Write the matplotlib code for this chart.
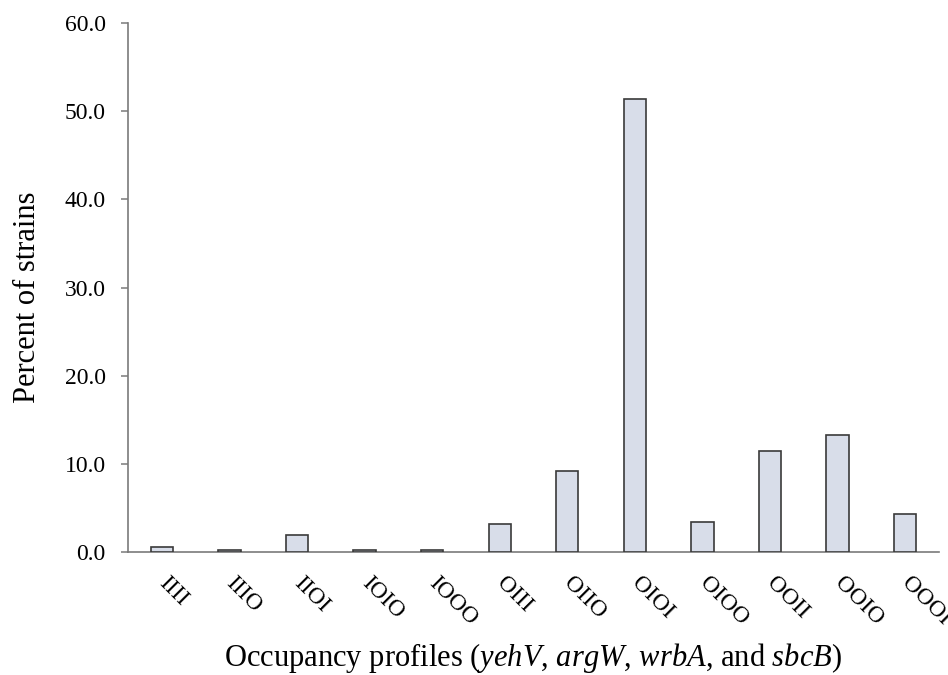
import matplotlib
matplotlib.use("Agg")
import matplotlib.pyplot as plt
import numpy as np

profiles = ["IIII", "IIIO", "IIOI", "IOIO", "IOOO", "OIII", "OIIO",
            "OIOI", "OIOO", "OOII", "OOIO", "OOOI"]
percent = [0.6, 0.3, 2.0, 0.3, 0.3, 3.2, 9.2, 51.4, 3.5, 11.5, 13.3, 4.4]
yticks = [0, 10, 20, 30, 40, 50, 60]

plt.rcParams['font.family'] = ['Liberation Serif', 'DejaVu Serif']
plt.rcParams['mathtext.fontset'] = 'custom'
plt.rcParams['mathtext.rm'] = 'Liberation Serif'
plt.rcParams['mathtext.it'] = 'Liberation Serif:italic'

fig = plt.figure(figsize=(9.48, 6.75), dpi=100)
ax = fig.add_axes([0.135, 0.1815, 0.8555, 0.7845])

x = np.arange(len(profiles))
ax.bar(x, percent, width=0.33, color='#d8dde9', edgecolor='#3a3a3a', linewidth=1.2, zorder=3)

ax.set_xlim(-0.5, len(profiles) - 0.5)
ax.set_ylim(0, 60)
ax.set_yticks(yticks)
ax.set_yticklabels([f"{v:.1f}" for v in yticks], fontsize=17)
ax.set_xticks(x)
ax.set_xticklabels(profiles, fontsize=17, rotation=-45, ha='left', va='center',
                   rotation_mode='anchor')
ax.tick_params(axis='x', length=0, pad=20)
ax.tick_params(axis='y', length=5, width=1.1, color='#7a7a7a', pad=11, direction='out')

for s in ['top', 'right']:
    ax.spines[s].set_visible(False)
for s in ['left', 'bottom']:
    ax.spines[s].set_color('#7a7a7a')
    ax.spines[s].set_linewidth(1.2)

ax.set_ylabel("Percent of strains", fontsize=22)
ax.yaxis.set_label_coords(-0.106, 0.482)
ax.set_xlabel(r"Occupancy profiles ($\it{yehV}$, $\it{argW}$, $\it{wrbA}$, and $\it{sbcB}$)",
              fontsize=22, labelpad=8)

fig.savefig("out.png", dpi=100)
